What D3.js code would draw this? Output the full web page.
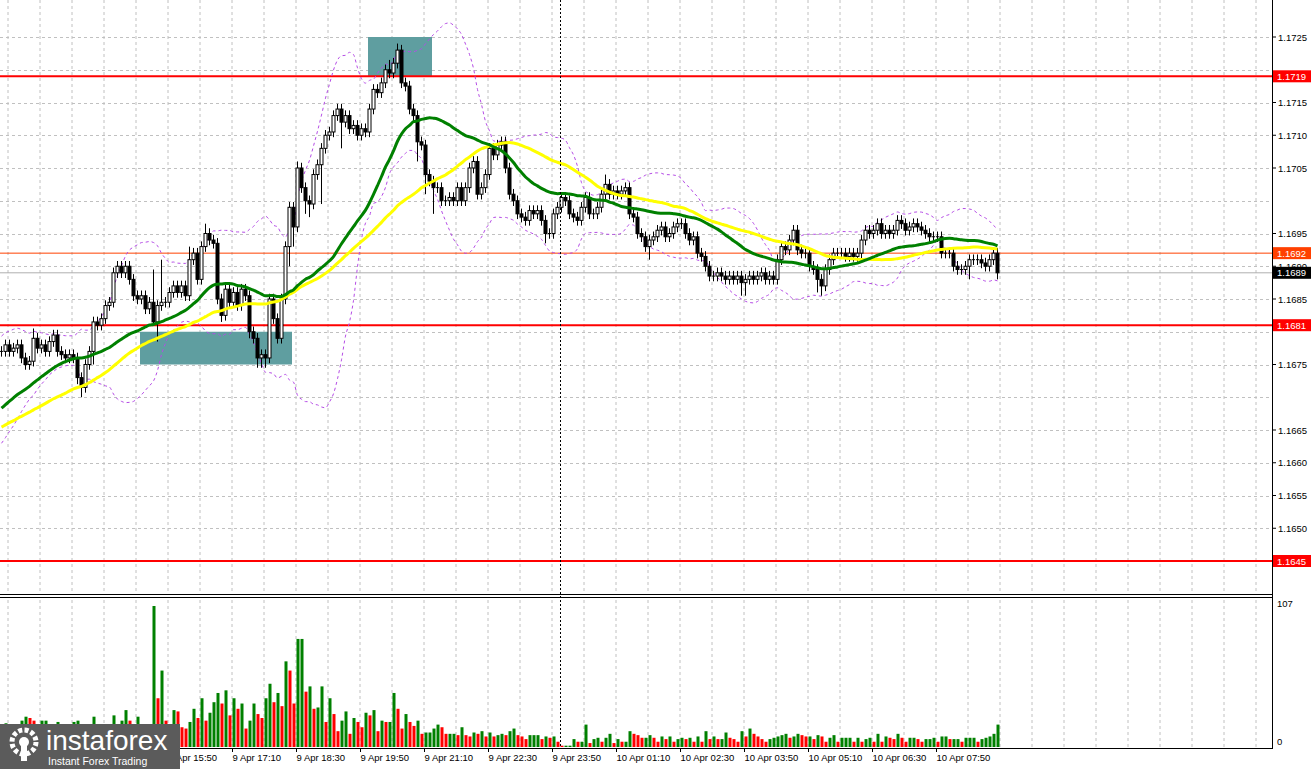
<!DOCTYPE html>
<html>
<head>
<meta charset="utf-8">
<script src="https://cdn.jsdelivr.net/npm/d3@7"></script>
<style>
  body { margin: 0; background: #fff; }
  text { font-family: "Liberation Sans", sans-serif; font-size: 9.5px; }
</style>
</head>
<body>
<svg id="chart" width="1313" height="769"></svg>
<script>
// closes in pips above 1.1600, one per 5-minute bar
const closes = [
  77,78,77,77.5,78,76,75,75.5,79,77.5,
  78,77,78.5,79.5,77,76.5,76,76.5,76,73,
  71.5,75,77,81.5,81,82,84,84.5,89,90,
  89,90,88,85.5,85,85.5,83.5,84.5,81.5,84,
  84.5,84.5,86,87,86,87,85.5,91,92,88,
  93,95,94,93.5,85,82.5,86.5,84.5,86,84,
  86.5,85.5,80,79,76,76.5,76,85,82,79,
  85,93,99,96,105,102,100,99.5,104,105.5,
  108,110,110.5,113,114,112,113,111,111.5,110,
  111,110.5,114,117,116.5,118,120,119.5,121,123,
  118,117.5,114,113,109,108.5,104,103,102,102,
  100,100,100.5,100,102,100,102,105,106,101,
  102,104,108,107,108.5,109,105,101,100,98,
  97.5,97,98.5,98,98.5,97,95,95,98,99,
  100.5,100,98,97.5,97,99,100.5,98,98,99,
  101,102.5,101,101.5,101,101.5,102,98,97.5,95,
  94.5,93,94,94.5,95.5,96,94.5,95,96,96.5,
  96.5,95,94,94.5,92,91.5,90,88.5,88.5,89,
  88.5,88,88.5,88,88.5,87.5,88,88.5,88,88.5,
  89,88,88.5,88,91,93,92.5,94,95.5,92.5,
  92,92,90,89.5,88,87,89.5,91,92,92,
  92,91.5,92,91.5,92,94,95.5,95,95.5,96.5,
  95,95.5,95,95.5,97,96.5,95.5,96,96.5,96,
  95.5,95,94.5,94.5,94.5,92,92,92,90,89.5,
  89.5,90,91,91,91,90.5,90,91,92,89
];
const firstOpen = 77;
// bars before the visible window (used only to warm up indicators)
const priorCloses = [
  60,61,60,62,61,60,59,60,61,62,61,60,61,62,63,62,61,60,61,62,
  63,62,61,62,63,64,63,62,63,64,
  63,64,65,66,66,67,68,69,70,70,71,72,72,73,74,75,75,76,76,77
];
const baseWick = 0.8;
// [bar, upper wick, lower wick] in pips
const wickSpikes = [
  [8,1.5,0.8],[19,0.8,1],[20,0.8,1.5],[23,0.8,2],[38,5,0.5],[39,0.8,3],[40,6.5,0.8],
  [47,2,0.8],[51,1.5,0.8],[55,0.8,1],[62,0.8,1],[64,0.8,1.5],[65,0.8,1.5],[66,0.8,1.5],
  [72,0.8,3],[73,0.8,3],[74,1,0.8],[76,0.8,2],[77,0.8,2],[80,0.8,6],[85,0.8,4],
  [97,1.5,0.8],[99,1,0.8],[104,0.8,3],[106,0.8,3],[108,0.8,4],[136,0.8,1.5],
  [151,1.5,0.8],[162,0.8,2],[185,0.8,2],[186,0.8,2],[204,0.8,2],[205,0.8,1.5],
  [242,0.8,2],[249,0.8,1]
];
const volumes = [
  15,18,12,16,14,20,23,22,20,15,20,20,15,13,19,14,14,13,19,20,
  14,13,13,23,14,14,14,14,24,13,20,28,20,14,23,14,14,15,
  107,37,58,20,17,28,27,15,14,19,29,22,37,20,26,34,41,33,43,24,37,29,33,14,20,33,25,22,
  37,48,34,41,31,65,58,33,82,82,42,46,29,30,46,19,37,25,12,20,27,10,22,19,15,26,24,28,
  12,20,19,19,41,29,14,25,19,16,20,10,11,11,14,17,15,10,10,10,
  9,15,9,8,11,10,
  12,8,11,8,9,10,9,12,14,9,8,6,9,9,9,6,8,7,8,4,1,1,1,6,4,4,17,3,6,7,
  4,7,10,3,6,4,4,12,10,9,7,7,9,7,4,8,6,8,4,6,7,6,7,4,8,4,12,6,8,6,
  6,11,7,6,4,12,8,14,10,8,6,4,6,7,8,9,10,7,8,10,9,8,8,6,9,8,4,7,9,4,
  7,7,7,4,7,4,6,7,4,10,4,8,7,6,10,7,4,7,7,6,4,6,6,7,4,8,8,6,6,6,4,7,7,7,4,6,7,8,10,17,4
].slice(0, 250);
const startTime = new Date(2025, 3, 9, 12, 20);
const tickBars = [42,58,74,90,106,122,138,154,170,186,202,218,234];
const priceTicks = [1.1725,1.1715,1.1710,1.1705,1.1695,1.1690,1.1685,1.1675,1.1665,1.1660,1.1655,1.1650];
const levels = [1.1719, 1.1681, 1.1645];
const zones = [[35,73,1.1680,1.1675],[92,108,1.1725,1.1719]];
const marketLine = 1.1692, bidLine = 1.1689;

const svg = d3.select("#chart");
const axisX = 1272;
const x = d3.scaleLinear().domain([0, 250]).range([0, 1000]);
const y = d3.scaleLinear().domain([1.1645, 1.1725]).range([561, 37]);
const yv = d3.scaleLinear().domain([0, 107]).range([747, 606]);
const pip = p => 1.16 + p / 10000;

// build candles
const wk = new Map(wickSpikes.map(d => [d[0], d]));
const bars = closes.map((c, i) => {
  const o = i === 0 ? firstOpen : closes[i - 1];
  const s = wk.get(i) || [i, baseWick, baseWick];
  return { i, o: pip(o), c: pip(c), h: pip(Math.max(o, c) + s[1]), l: pip(Math.min(o, c) - s[2]) };
});

// indicators
const all = priorCloses.concat(closes).map(pip);
const off = priorCloses.length;
function sma(n) {
  return closes.map((_, i) => d3.mean(all.slice(off + i - n + 1, off + i + 1)));
}
const ma30 = sma(30), ma50 = sma(50);
const bb = closes.map((_, i) => {
  const w = all.slice(off + i - 19, off + i + 1);
  const m = d3.mean(w), sd = Math.sqrt(d3.mean(w, v => (v - m) ** 2));
  return [m + 2 * sd, m - 2 * sd];
});

// grid
const grid = svg.append("g").attr("stroke", "#c0c0c0").attr("stroke-dasharray", "3,3");
d3.range(8, axisX, 32).forEach(gx => {
  grid.append("line").attr("x1", gx).attr("x2", gx).attr("y1", 0).attr("y2", 592);
  grid.append("line").attr("x1", gx).attr("x2", gx).attr("y1", 600).attr("y2", 747);
});
d3.range(1.1645, 1.17251, 0.0005).forEach(p => {
  grid.append("line").attr("x1", 0).attr("x2", axisX).attr("y1", Math.round(y(p)) + 0.5).attr("y2", Math.round(y(p)) + 0.5);
});

// zones
svg.append("g").selectAll("rect").data(zones).join("rect")
  .attr("x", d => x(d[0])).attr("width", d => x(d[1]) - x(d[0]))
  .attr("y", d => y(d[2])).attr("height", d => y(d[3]) - y(d[2]))
  .attr("fill", "#5f9ea0");

// levels
svg.append("line").attr("x1", 0).attr("x2", axisX).attr("y1", y(bidLine)).attr("y2", y(bidLine)).attr("stroke", "#b0b0b0");
svg.append("line").attr("x1", 0).attr("x2", axisX).attr("y1", y(marketLine)).attr("y2", y(marketLine)).attr("stroke", "#ff4000");
svg.append("g").selectAll("line").data(levels).join("line")
  .attr("x1", 0).attr("x2", axisX).attr("y1", d => y(d)).attr("y2", d => y(d))
  .attr("stroke", "#ff0000").attr("stroke-width", 2);

// bollinger
const bbLine = k => d3.line().x((d, i) => x(i) + 1.5).y(d => y(d[k])).curve(d3.curveMonotoneX);
[0, 1].forEach(k => svg.append("path").datum(bb).attr("d", bbLine(k))
  .attr("fill", "none").attr("stroke", "#b54ce6").attr("stroke-dasharray", "3,3"));

// candles
const cg = svg.append("g");
bars.forEach(b => {
  const cx = Math.round(x(b.i)) + 1.5;
  cg.append("line").attr("x1", cx).attr("x2", cx).attr("y1", y(b.h)).attr("y2", y(b.l)).attr("stroke", "#000");
  const top = y(Math.max(b.o, b.c)), bot = y(Math.min(b.o, b.c));
  if (bot - top < 1) {
    cg.append("line").attr("x1", cx - 1.5).attr("x2", cx + 1.5).attr("y1", top).attr("y2", top).attr("stroke", "#000");
  } else {
    cg.append("rect").attr("x", cx - 1.5).attr("width", 3).attr("y", top).attr("height", bot - top)
      .attr("fill", b.c > b.o ? "#fff" : "#000").attr("stroke", "#000").attr("stroke-width", 1);
  }
});

// moving averages
const maLine = d3.line().x((d, i) => x(i) + 1.5).y(d => y(d)).curve(d3.curveMonotoneX);
svg.append("path").datum(ma50).attr("d", maLine).attr("fill", "none").attr("stroke", "#ffff00").attr("stroke-width", 3);
svg.append("path").datum(ma30).attr("d", maLine).attr("fill", "none").attr("stroke", "#008000").attr("stroke-width", 3);

// volumes
svg.append("g").selectAll("rect").data(volumes).join("rect")
  .attr("x", (d, i) => Math.round(x(i)) + 0.5).attr("width", 3)
  .attr("y", d => yv(d)).attr("height", d => yv(0) - yv(d))
  .attr("fill", (d, i) => i > 0 && d < volumes[i - 1] ? "#ff0000" : "#008000");

// crosshair
svg.append("line").attr("x1", 560.5).attr("x2", 560.5).attr("y1", 0).attr("y2", 747)
  .attr("stroke", "#000").attr("stroke-dasharray", "2,2");

// panel frames
svg.append("line").attr("x1", 0).attr("x2", axisX).attr("y1", 594.5).attr("y2", 594.5).attr("stroke", "#000");
svg.append("line").attr("x1", 0).attr("x2", axisX).attr("y1", 597.5).attr("y2", 597.5).attr("stroke", "#000");
svg.append("line").attr("x1", 0).attr("x2", axisX).attr("y1", 748.5).attr("y2", 748.5).attr("stroke", "#000");
svg.append("line").attr("x1", axisX + 0.5).attr("x2", axisX + 0.5).attr("y1", 0).attr("y2", 749).attr("stroke", "#000");

// price axis
const ax = svg.append("g");
priceTicks.forEach(p => {
  ax.append("line").attr("x1", axisX).attr("x2", axisX + 4).attr("y1", y(p)).attr("y2", y(p)).attr("stroke", "#000");
  ax.append("text").attr("x", axisX + 6).attr("y", y(p) + 3.5).text(d3.format(".4f")(p));
});
function tag(p, bg, fg) {
  ax.append("rect").attr("x", axisX + 1).attr("y", y(p) - 6).attr("width", 38).attr("height", 12).attr("fill", bg);
  ax.append("text").attr("x", axisX + 5).attr("y", y(p) + 3.5).attr("fill", fg).text(d3.format(".4f")(p));
}
levels.forEach(p => tag(p, "#ff0000", "#fff"));
tag(marketLine, "#ff4000", "#fff");
tag(bidLine, "#000", "#fff");
ax.append("text").attr("x", axisX + 5).attr("y", 607).text("107");
ax.append("text").attr("x", axisX + 5).attr("y", 745).text("0");

// time axis
const fmt = d3.timeFormat("%-d %b %H:%M");
tickBars.forEach(b => {
  const gx = x(b) + 0.5;
  svg.append("line").attr("x1", gx).attr("x2", gx).attr("y1", 748).attr("y2", 752).attr("stroke", "#000");
  svg.append("text").attr("x", gx).attr("y", 761).text(fmt(new Date(+startTime + b * 300000)));
});

// logo
const logo = svg.append("g");
logo.append("rect").attr("x", 0).attr("y", 724).attr("width", 180).attr("height", 45).attr("fill", "#5b5b5b");
logo.append("circle").attr("cx", 24).attr("cy", 742).attr("r", 12).attr("fill", "none").attr("stroke", "#fff").attr("stroke-width", 5).attr("stroke-dasharray", "4,2.3");
logo.append("circle").attr("cx", 24).attr("cy", 742).attr("r", 5).attr("fill", "#fff");
logo.append("rect").attr("x", 21).attr("y", 745).attr("width", 6).attr("height", 16).attr("fill", "#fff");
logo.append("text").attr("x", 46).attr("y", 750).attr("fill", "#fff").style("font-size", "28px").text("instaforex");
logo.append("text").attr("x", 48).attr("y", 765).attr("fill", "#fff").style("font-size", "10.5px").text("Instant Forex Trading");
</script>
</body>
</html>
